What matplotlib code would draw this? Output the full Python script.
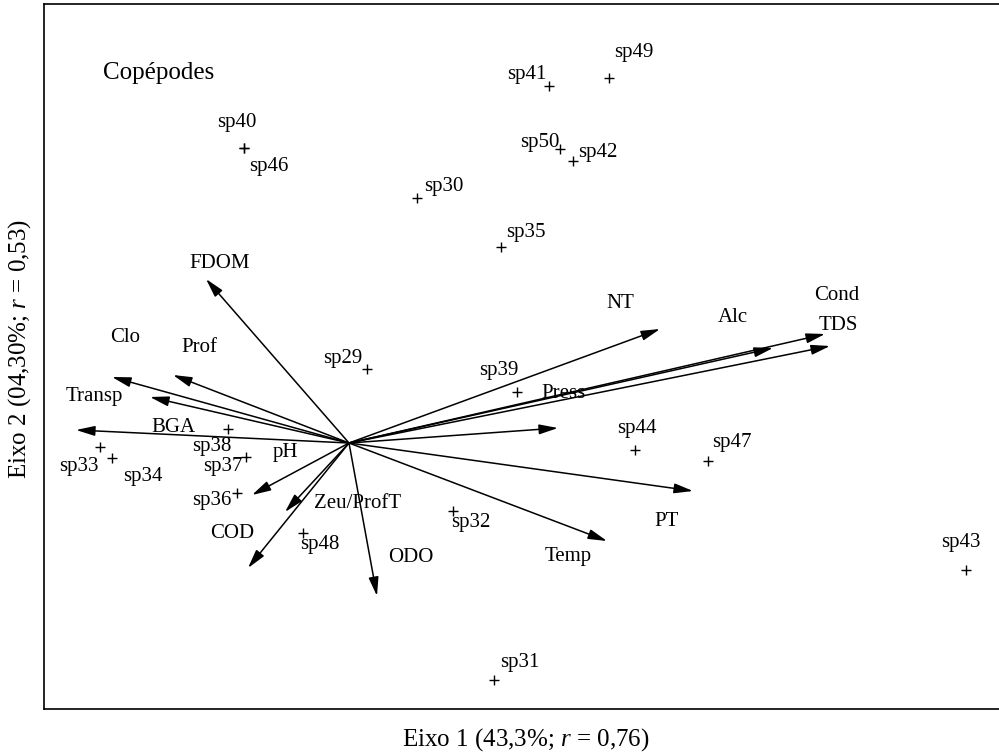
import matplotlib
matplotlib.use("Agg")
import matplotlib.pyplot as plt

plt.rcParams['font.family'] = ['Liberation Serif', 'DejaVu Serif']
plt.rcParams['mathtext.fontset'] = 'custom'
plt.rcParams['mathtext.it'] = 'Liberation Serif:italic'
plt.rcParams['mathtext.rm'] = 'Liberation Serif'

# ---- species scores (axis 1, axis 2) ----
species = ['sp29', 'sp30', 'sp31', 'sp32', 'sp33', 'sp34', 'sp35', 'sp36', 'sp37',
           'sp38', 'sp39', 'sp40', 'sp41', 'sp42', 'sp43', 'sp44', 'sp46', 'sp47',
           'sp48', 'sp49', 'sp50']
sp_x = [0.18, 0.68, 1.45, 1.04, -2.49, -2.37, 1.52, -1.12, -1.03,
        -1.21, 1.68, -1.05, 2.00, 2.24, 6.17, 2.86, -1.05, 3.59,
        -0.46, 2.60, 2.11]
sp_y = [0.74, 2.45, -2.37, -0.68, -0.04, -0.15, 1.96, -0.50, -0.14,
        0.14, 0.51, 2.95, 3.57, 2.82, -1.27, -0.07, 2.95, -0.18,
        -0.90, 3.65, 2.94]

# ---- environmental vectors (biplot scores) ----
variables = ['FDOM', 'Clo', 'Prof', 'Transp', 'BGA', 'pH', 'Zeu/ProfT', 'COD', 'ODO',
             'NT', 'Alc', 'Cond', 'TDS', 'Press', 'PT', 'Temp']
var_x = [-1.43, -2.37, -1.76, -2.73, -1.99, -0.97, -0.64, -1.01, 0.28,
         3.11, 4.24, 4.76, 4.81, 2.09, 3.44, 2.58]
var_y = [1.64, 0.66, 0.68, 0.13, 0.46, -0.52, -0.69, -1.25, -1.53,
         1.14, 0.95, 1.09, 0.97, 0.15, -0.48, -0.98]

# ---- label placement offsets (layout only, axis units) ----
sp_off = [(-0.24, 0.11), (0.27, 0.11), (0.26, 0.18), (0.18, -0.12), (-0.21, -0.20),
          (0.31, -0.18), (0.25, 0.15), (-0.25, -0.08), (-0.23, -0.09), (-0.16, -0.18),
          (-0.18, 0.22), (-0.07, 0.25), (-0.22, 0.12), (0.25, 0.09), (-0.05, 0.28),
          (0.02, 0.22), (0.25, -0.18), (0.24, 0.18), (0.17, -0.12), (0.25, 0.26),
          (-0.20, 0.06)]
var_lab = [(-1.29, 1.80), (-2.24, 1.05), (-1.50, 0.96), (-2.55, 0.47), (-1.76, 0.16),
           (-0.64, -0.10), (0.09, -0.60), (-1.17, -0.90), (0.62, -1.15),
           (2.71, 1.40), (3.84, 1.26), (4.88, 1.48), (4.89, 1.17), (2.14, 0.50),
           (3.18, -0.79), (2.19, -1.13)]

fig = plt.figure(figsize=(9.99, 7.53), dpi=100)
ax = fig.add_axes([44 / 999, 44 / 753, (1004 - 44) / 999, (709 - 4) / 753])
ax.set_xlim(-3.05, 6.55)
ax.set_ylim(-2.66, 4.39)
ax.set_xticks([])
ax.set_yticks([])
for s in ax.spines.values():
    s.set_linewidth(1.2)
    s.set_color('black')

fs = 15
# species points
ax.plot(sp_x, sp_y, linestyle='none', marker='+', markersize=7, mew=1.0, color='black')
for name, x, y, (dx, dy) in zip(species, sp_x, sp_y, sp_off):
    ax.text(x + dx, y + dy, name, fontsize=fs, ha='center', va='center')

# vectors
for name, x, y, (lx, ly) in zip(variables, var_x, var_y, var_lab):
    ax.annotate('', xy=(x, y), xytext=(0, 0),
                arrowprops=dict(arrowstyle='-|>,head_length=0.95,head_width=0.25',
                                lw=1.1, color='black', shrinkA=0, shrinkB=0,
                                mutation_scale=12))
    ax.text(lx, ly, name, fontsize=fs, ha='center', va='center')

ax.text(-1.90, 3.70, 'Copépodes', fontsize=18, ha='center', va='center')

fig.text(526 / 999, 1 - 740 / 753, r'Eixo 1 (43,3%; $r$ = 0,76)', fontsize=18,
         ha='center', va='center')
fig.text(20 / 999, 1 - 349 / 753, r'Eixo 2 (04,30%; $r$ = 0,53)', fontsize=18,
         ha='center', va='center', rotation=90)

fig.savefig('out.png', dpi=100)
